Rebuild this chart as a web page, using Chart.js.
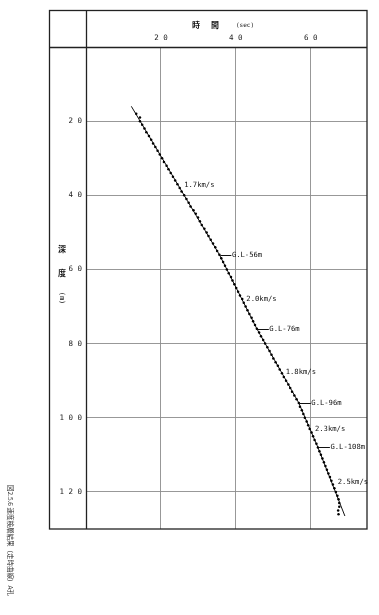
<!DOCTYPE html>
<html><head><meta charset="utf-8">
<script src="https://cdn.jsdelivr.net/npm/chart.js@4/dist/chart.umd.min.js"></script>
<style>html,body{margin:0;padding:0;background:#fff}#wrap{width:379px;height:615px;position:relative}</style>
</head><body><div id="wrap"><canvas id="c" width="379" height="615"></canvas></div>
<script>
// ---- data ----
const depths = [18,19,20,21,22,23,24,25,26,27,28,29,30,31,32,33,34,35,36,37,38,39,40,41,42,43,44,45,46,47,48,49,50,51,52,53,54,55,56,
57,58,59,60,61,62,63,64,65,66,67,68,69,70,71,72,73,74,75,76,
77,78,79,80,81,82,83,84,85,86,87,88,89,90,91,92,93,94,95,96,
97,98,99,100,101,102,103,104,105,106,107,108,
109,110,111,112,113,114,115,116,117,118,119,120,121,122,123,124,125,126];
const times = [13.4,14.4,14.4,15.0,15.6,16.1,16.8,17.4,17.9,18.5,19.1,19.7,20.3,20.8,21.5,22.0,22.6,23.2,23.8,24.4,25.0,25.5,26.2,26.8,27.4,27.9,28.7,29.3,29.9,30.4,30.9,31.6,32.2,32.7,33.3,33.9,34.5,35.0,35.6,
36.1,36.6,37.1,37.6,38.1,38.7,39.1,39.6,40.1,40.6,41.1,41.7,42.1,42.6,43.1,43.6,44.2,44.6,45.1,45.6,
46.2,46.7,47.3,47.8,48.4,49.0,49.5,50.0,50.6,51.2,51.7,52.3,52.8,53.4,54.0,54.5,55.0,55.6,56.2,56.8,
57.1,57.6,58.0,58.4,58.9,59.3,59.7,60.2,60.6,61.0,61.5,61.9,
62.3,62.7,63.1,63.5,63.9,64.3,64.7,65.1,65.5,65.9,66.3,66.7,67.1,67.4,67.6,67.6,67.3,67.4];
// fitted travel-time line (break points)
const lineDepths = [16, 56, 76, 96, 108, 126.5];
const lineTimes  = [12.1, 35.6, 45.6, 56.8, 61.9, 69.1];
const velocityLabels = ["1.7km/s","2.0km/s","1.8km/s","2.3km/s","2.5km/s"];
const velocityAt = [[26.2,37.3],[42.8,68.1],[53.3,87.6],[61.1,103.0],[67.2,117.3]]; // [time, depth]
const boundaryDepths = [56, 76, 96, 108];
const boundaryTimes  = [35.6, 45.6, 56.8, 61.9];
const boundaryLabels = ["G.L-56m","G.L-76m","G.L-96m","G.L-108m"];
const xTickValues = [20, 40, 60];
const xTickLabels = ["2 0","4 0","6 0"];
const yTickValues = [20, 40, 60, 80, 100, 120];
const yTickLabels = ["2 0","4 0","6 0","8 0","1 0 0","1 2 0"];
const xTitle = ["時","間","(sec)"];
const yTitle = ["深","度","(m)"];
const caption = "図2.5.6 速度検層結果（走時曲線）A孔";

const MONO = '"DejaVu Sans Mono", "Liberation Mono", monospace';
const CJK = '"Noto Sans CJK JP", sans-serif';

const decor = {
  id: 'decor',
  afterDraw(chart) {
    const ctx = chart.ctx, xs = chart.scales.x, ys = chart.scales.y, ca = chart.chartArea;
    ctx.save();
    // outer frame
    ctx.strokeStyle = '#222'; ctx.lineWidth = 1.3;
    ctx.strokeRect(49.5, 10.5, ca.right - 49.5, ca.bottom - 10.5);
    ctx.beginPath();
    ctx.moveTo(49.5, ca.top + 0.5); ctx.lineTo(ca.right, ca.top + 0.5);
    ctx.moveTo(ca.left + 0.5, 10.5); ctx.lineTo(ca.left + 0.5, ca.bottom);
    ctx.stroke();
    // header title
    ctx.fillStyle = '#111'; ctx.textBaseline = 'middle'; ctx.textAlign = 'center';
    ctx.font = 'bold 8px ' + CJK;
    ctx.fillText(xTitle[0], 196, 25);
    ctx.fillText(xTitle[1], 215, 25);
    ctx.font = '6px ' + MONO; ctx.textAlign = 'left';
    ctx.fillText(xTitle[2], 236, 25.5);
    // y title
    ctx.textAlign = 'center';
    ctx.font = 'bold 8px ' + CJK;
    ctx.fillText(yTitle[0], 62, 249);
    ctx.fillText(yTitle[1], 62, 273);
    ctx.save(); ctx.translate(62, 298); ctx.rotate(Math.PI / 2);
    ctx.font = '7px ' + MONO; ctx.fillText(yTitle[2], 0, 0); ctx.restore();
    // caption (rotated)
    ctx.save(); ctx.translate(10, 485); ctx.rotate(Math.PI / 2);
    ctx.textAlign = 'left'; ctx.font = '6.5px ' + CJK; ctx.fillStyle = '#333';
    ctx.fillText(caption, 0, 0); ctx.restore();
    // velocity labels
    ctx.fillStyle = '#111'; ctx.font = '7.2px ' + MONO; ctx.textAlign = 'left';
    velocityLabels.forEach((t, i) => {
      ctx.fillText(t, xs.getPixelForValue(velocityAt[i][0]), ys.getPixelForValue(velocityAt[i][1]));
    });
    // boundary markers
    ctx.strokeStyle = '#111'; ctx.lineWidth = 1;
    boundaryLabels.forEach((t, i) => {
      const px = xs.getPixelForValue(boundaryTimes[i]) + 1, py = Math.round(ys.getPixelForValue(boundaryDepths[i])) + 0.5;
      ctx.beginPath(); ctx.moveTo(px, py); ctx.lineTo(px + 11, py); ctx.stroke();
      ctx.fillText(t, px + 11.5, py);
    });
    ctx.restore();
  }
};

new Chart(document.getElementById('c'), {
  type: 'scatter',
  data: {
    datasets: [
      { data: depths.map((d, i) => ({x: times[i], y: d})), pointRadius: 1.25, pointBackgroundColor: '#000', pointBorderWidth: 0, showLine: false },
      { data: lineDepths.map((d, i) => ({x: lineTimes[i], y: d})), showLine: true, borderColor: '#111', borderWidth: 1, pointRadius: 0, fill: false, tension: 0 }
    ]
  },
  options: {
    responsive: false, animation: false, devicePixelRatio: 1,
    layout: { padding: { left: 0, top: 0, right: 12, bottom: 86 } },
    plugins: { legend: { display: false }, tooltip: { enabled: false } },
    scales: {
      x: {
        type: 'linear', position: 'top', min: 0, max: 75,
        afterBuildTicks: a => { a.ticks = [0].concat(xTickValues).map(v => ({value: v})); },
        afterFit: a => { a.height = 47; },
        grid: { color: '#8c8c8c', lineWidth: 0.9, drawTicks: false },
        border: { display: false },
        ticks: { padding: 4, color: '#222', font: { family: MONO, size: 7.5 }, maxRotation: 0,
          callback: v => { const i = xTickValues.indexOf(v); return i < 0 ? '' : xTickLabels[i]; } }
      },
      y: {
        type: 'linear', reverse: true, min: 0, max: 130,
        afterBuildTicks: a => { a.ticks = [0].concat(yTickValues).map(v => ({value: v})); },
        afterFit: a => { a.width = 86; },
        grid: { color: '#8c8c8c', lineWidth: 0.9, drawTicks: false },
        border: { display: false },
        ticks: { padding: 4, color: '#222', font: { family: MONO, size: 7.5 },
          callback: v => { const i = yTickValues.indexOf(v); return i < 0 ? '' : yTickLabels[i]; } }
      }
    }
  },
  plugins: [decor]
});
</script>
</body></html>
